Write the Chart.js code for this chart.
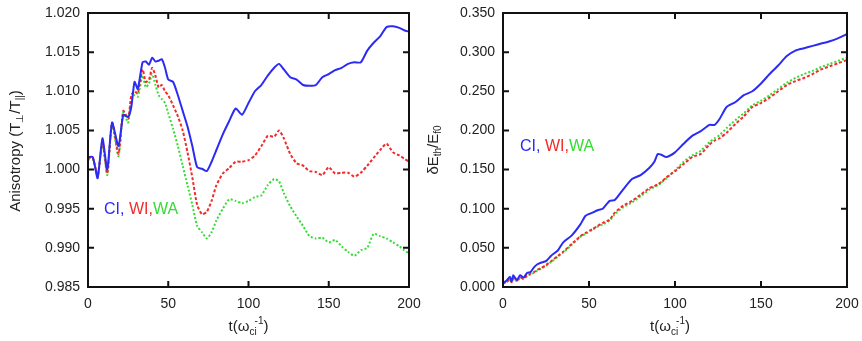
<!DOCTYPE html>
<html>
<head>
<meta charset="utf-8">
<script src="https://cdn.jsdelivr.net/npm/chart.js@4"></script>
<style>
  body { margin: 0; background: #fff; }
  #wrap { position: relative; width: 862px; height: 341px; }
  canvas { position: absolute; top: 0; }
  #anis { left: 0; }
  #energy { left: 415px; }
</style>
</head>
<body>
<div id="wrap">
  <canvas id="anis" width="431" height="341"></canvas>
  <canvas id="energy" width="447" height="341"></canvas>
</div>
<script>
// left panel: anisotropy T_perp/T_par vs time
const tA = [0, 3, 6, 9, 12, 15, 19, 22, 25, 27, 29, 31, 34, 36, 38, 40, 42, 44, 46, 48,
  50, 53, 56, 59, 62, 65, 68, 71, 74, 77, 80, 84, 88, 92, 96, 100, 104, 108, 112, 116,
  119, 122, 126, 130, 134, 138, 142, 146, 150, 154, 158, 162, 166, 170, 174, 178, 182, 186, 190, 194,
  197, 200];
const anisCI = [1.0016, 1.0016, 0.9989, 1.0040, 1.0000, 1.0060, 1.0030, 1.0070, 1.0067, 1.0080,
  1.0112, 1.0103, 1.0137, 1.0138, 1.0134, 1.0143, 1.0138, 1.0139, 1.0141, 1.0130,
  1.0115, 1.0112, 1.0095, 1.0075, 1.0055, 1.0030, 1.0003, 1.0001, 0.9998, 1.0010,
  1.0025, 1.0045, 1.0062, 1.0078, 1.0070, 1.0085, 1.0100, 1.0108, 1.0120, 1.0130,
  1.0135, 1.0128, 1.0118, 1.0115, 1.0108, 1.0107, 1.0108, 1.0118, 1.0122, 1.0127,
  1.0130, 1.0135, 1.0137, 1.0137, 1.0152, 1.0162, 1.0170, 1.0182, 1.0183, 1.0181,
  1.0178, 1.0176];
const anisWI = [1.0015, 1.0015, 0.9992, 1.0035, 0.9995, 1.0060, 1.0020, 1.0075, 1.0065, 1.0095,
  1.0100, 1.0097, 1.0128, 1.0112, 1.0115, 1.0130, 1.0120, 1.0105, 1.0108, 1.0100,
  1.0095, 1.0082, 1.0068, 1.0050, 1.0022, 0.9990, 0.9955, 0.9943, 0.9946, 0.9960,
  0.9980, 0.9995, 1.0002, 1.0010, 1.0010, 1.0012, 1.0018, 1.0030, 1.0043, 1.0042,
  1.0050, 1.0040, 1.0020, 1.0008, 1.0005, 0.9998, 0.9997, 0.9993, 1.0003, 0.9995,
  0.9996, 0.9996, 0.9991, 0.9996, 1.0005, 1.0015, 1.0025, 1.0033, 1.0022, 1.0018,
  1.0014, 1.0010];
const anisWA = [1.0013, 1.0013, 0.9993, 1.0033, 0.9993, 1.0058, 1.0017, 1.0073, 1.0060, 1.0090,
  1.0095, 1.0093, 1.0120, 1.0105, 1.0110, 1.0122, 1.0108, 1.0095, 1.0090, 1.0085,
  1.0072, 1.0052, 1.0030, 1.0005, 0.9980, 0.9955, 0.9928, 0.9920, 0.9912, 0.9920,
  0.9935, 0.9950, 0.9962, 0.9960, 0.9957, 0.9960, 0.9965, 0.9967, 0.9980, 0.9988,
  0.9985, 0.9970, 0.9953, 0.9940, 0.9928, 0.9915, 0.9912, 0.9913, 0.9907, 0.9910,
  0.9902, 0.9895, 0.9890, 0.9897, 0.9900, 0.9918, 0.9915, 0.9912, 0.9907, 0.9902,
  0.9897, 0.9893];

// right panel: thermal energy gain dE_th/E_f0 vs time
const tB = [0, 2, 4, 5, 6, 8, 10, 12, 14, 16, 18, 20, 22, 25, 28, 32, 35, 40, 45, 48,
  52, 55, 58, 62, 65, 70, 75, 80, 85, 88, 90, 92, 95, 100, 105, 110, 115, 120, 123, 126,
  130, 135, 140, 145, 150, 155, 160, 165, 170, 175, 180, 185, 190, 195, 200];
const energyCI = [0.005, 0.008, 0.013, 0.007, 0.015, 0.009, 0.015, 0.012, 0.018, 0.019,
  0.025, 0.029, 0.031, 0.033, 0.040, 0.047, 0.057, 0.066, 0.080, 0.091,
  0.095, 0.098, 0.100, 0.110, 0.111, 0.125, 0.138, 0.143, 0.152, 0.160,
  0.170, 0.169, 0.166, 0.172, 0.183, 0.193, 0.199, 0.207, 0.207, 0.215,
  0.230, 0.236, 0.245, 0.250, 0.260, 0.272, 0.283, 0.295, 0.302, 0.305,
  0.308, 0.311, 0.314, 0.318, 0.323];
const energyWI = [0.004, 0.007, 0.010, 0.006, 0.011, 0.008, 0.012, 0.011, 0.015, 0.017,
  0.019, 0.022, 0.024, 0.028, 0.033, 0.040, 0.045, 0.055, 0.065, 0.069,
  0.074, 0.078, 0.082, 0.086, 0.095, 0.104, 0.110, 0.118, 0.126, 0.129,
  0.131, 0.134, 0.140, 0.148, 0.157, 0.166, 0.170, 0.182, 0.187, 0.190,
  0.197, 0.208, 0.218, 0.230, 0.235, 0.242, 0.250, 0.258, 0.263, 0.267,
  0.272, 0.278, 0.282, 0.286, 0.290];
const energyWA = [0.005, 0.006, 0.009, 0.006, 0.010, 0.008, 0.011, 0.010, 0.014, 0.016,
  0.018, 0.021, 0.023, 0.027, 0.032, 0.039, 0.044, 0.054, 0.064, 0.068,
  0.073, 0.077, 0.080, 0.085, 0.093, 0.102, 0.108, 0.116, 0.124, 0.128,
  0.130, 0.133, 0.139, 0.149, 0.160, 0.168, 0.174, 0.185, 0.190, 0.194,
  0.203, 0.213, 0.222, 0.232, 0.238, 0.245, 0.253, 0.261, 0.267, 0.272,
  0.276, 0.281, 0.285, 0.289, 0.293];

const xTicks = [0, 50, 100, 150, 200];
const anisTicks = [0.985, 0.990, 0.995, 1.000, 1.005, 1.010, 1.015, 1.020];
const energyTicks = [0.000, 0.050, 0.100, 0.150, 0.200, 0.250, 0.300, 0.350];
const seriesNames = ['CI', 'WI', 'WA'];

const BLUE = '#2b2bf5', RED = '#f22b2b', GREEN = '#33dd33';
const FONT = '"Liberation Sans", Arial, sans-serif';

function pts(t, v) { return t.map((x, i) => ({ x: x, y: v[i] })); }

function drawParts(ctx, parts, x, y, align) {
  let w = 0;
  parts.forEach(p => {
    ctx.font = (p.s || 15) + 'px ' + FONT;
    w += ctx.measureText(p.t).width + (p.dx || 0);
  });
  let cx = align === 'center' ? x - w / 2 : x;
  parts.forEach(p => {
    ctx.font = (p.s || 15) + 'px ' + FONT;
    ctx.fillStyle = p.c || '#222';
    cx += p.dx || 0;
    ctx.fillText(p.t, cx, y + (p.dy || 0));
    cx += ctx.measureText(p.t).width;
  });
}

// frame, inward mirror ticks and the gnuplot-like texts
const decor = {
  id: 'decor',
  afterDraw(chart, args, o) {
    const ctx = chart.ctx, a = chart.chartArea;
    const xs = chart.scales.x, ys = chart.scales.y;
    ctx.save();
    ctx.strokeStyle = '#111';
    ctx.lineWidth = 2;
    ctx.strokeRect(a.left, a.top, a.right - a.left, a.bottom - a.top);
    ctx.beginPath();
    o.xt.forEach(v => {
      const px = xs.getPixelForValue(v);
      ctx.moveTo(px, a.bottom); ctx.lineTo(px, a.bottom - 6);
      ctx.moveTo(px, a.top); ctx.lineTo(px, a.top + 6);
    });
    o.yt.forEach(v => {
      const py = ys.getPixelForValue(v);
      ctx.moveTo(a.left, py); ctx.lineTo(a.left + 6, py);
      ctx.moveTo(a.right, py); ctx.lineTo(a.right - 6, py);
    });
    ctx.stroke();

    ctx.textBaseline = 'alphabetic';
    // x title
    drawParts(ctx, [{ t: 't(ω' }, { t: 'ci', s: 10, dy: 4 }, { t: '-1', s: 10, dy: -7, dx: -2 }, { t: ')' }],
      (a.left + a.right) / 2 + o.xtOff, 331, 'center');
    // y title, rotated
    ctx.save();
    ctx.translate(o.ytX, o.ytY);
    ctx.rotate(-Math.PI / 2);
    drawParts(ctx, o.yTitle, 0, 5, 'center');
    ctx.restore();
    // series key
    const cols = [BLUE, RED, GREEN];
    drawParts(ctx, [
      { t: seriesNames[0] + ', ', s: 16, c: cols[0] },
      { t: seriesNames[1] + ',', s: 16, c: cols[1] },
      { t: seriesNames[2], s: 16, c: cols[2] }
    ], o.keyX, o.keyY, 'left');
    ctx.restore();
  }
};

function lineSets(t, a, b, c) {
  return [
    { label: seriesNames[0], data: pts(t, a), borderColor: BLUE, borderWidth: 2 },
    { label: seriesNames[1], data: pts(t, b), borderColor: RED, borderWidth: 2, borderDash: [3, 2] },
    { label: seriesNames[2], data: pts(t, c), borderColor: GREEN, borderWidth: 2, borderDash: [2, 2] }
  ];
}

function opts(yMin, yMax, yTicks, padRight, d) {
  return {
    responsive: false,
    animation: false,
    devicePixelRatio: 1,
    layout: { padding: { top: 13, right: padRight, left: 0, bottom: 0 } },
    elements: { point: { radius: 0 }, line: { tension: 0.2 } },
    plugins: { legend: { display: false }, tooltip: { enabled: false }, decor: d },
    scales: {
      x: {
        type: 'linear', min: 0, max: 200,
        afterBuildTicks: s => { s.ticks = xTicks.map(v => ({ value: v })); },
        afterFit: s => { s.height = 54; s.paddingLeft = 0; s.paddingRight = 0; },
        grid: { display: false, drawTicks: false }, border: { display: false },
        ticks: { font: { family: FONT, size: 14 }, color: '#222', padding: 9, maxRotation: 0 }
      },
      y: {
        type: 'linear', min: yMin, max: yMax,
        afterBuildTicks: s => { s.ticks = yTicks.map(v => ({ value: v })); },
        afterFit: s => { s.width = 88; s.paddingTop = 0; s.paddingBottom = 0; },
        grid: { display: false, drawTicks: false }, border: { display: false },
        ticks: { font: { family: FONT, size: 14 }, color: '#222', padding: 8,
          callback: v => v.toFixed(3) }
      }
    }
  };
}

const anis = new Chart(document.getElementById('anis').getContext('2d'), {
  type: 'line',
  data: { datasets: lineSets(tA, anisCI, anisWI, anisWA) },
  options: opts(0.985, 1.020, anisTicks, 22, {
    xt: xTicks, yt: anisTicks, xtOff: 0, ytX: 15, ytY: 151,
    yTitle: [{ t: 'Anisotropy (T' }, { t: '⊥', s: 10, dy: 3 }, { t: '/T' }, { t: '||', s: 10, dy: 3 }, { t: ')' }],
    keyX: 104, keyY: 214
  }),
  plugins: [decor]
});

const energy = new Chart(document.getElementById('energy').getContext('2d'), {
  type: 'line',
  data: { datasets: lineSets(tB, energyCI, energyWI, energyWA) },
  options: opts(0, 0.35, energyTicks, 15, {
    xt: xTicks, yt: energyTicks, xtOff: -5, ytX: 18, ytY: 150,
    yTitle: [{ t: 'δE' }, { t: 'th', s: 10, dy: 3 }, { t: '/E' }, { t: 'f0', s: 10, dy: 3 }],
    keyX: 105, keyY: 151
  }),
  plugins: [decor]
});
</script>
</body>
</html>
